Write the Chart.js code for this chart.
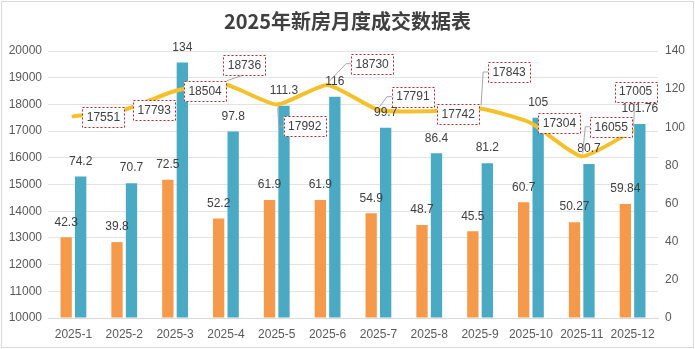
<!DOCTYPE html>
<html>
<head>
<meta charset="utf-8">
<script src="https://cdn.jsdelivr.net/npm/chart.js@4.4.1/dist/chart.umd.min.js"></script>
<style>
  html, body { margin: 0; padding: 0; background: #ffffff; }
  #wrap { width: 695px; height: 349px; }
</style>
</head>
<body>
<div id="wrap"><canvas id="c" width="695" height="349"></canvas></div>
<script>
// ---- data ----
const titleText = '2025年新房月度成交数据表';
const categories = ['2025-1','2025-2','2025-3','2025-4','2025-5','2025-6','2025-7','2025-8','2025-9','2025-10','2025-11','2025-12'];
const orangeValues = [42.3, 39.8, 72.5, 52.2, 61.9, 61.9, 54.9, 48.7, 45.5, 60.7, 50.27, 59.84];
const tealValues = [74.2, 70.7, 134, 97.8, 111.3, 116, 99.7, 86.4, 81.2, 105, 80.7, 101.76];
const lineValues = [17551, 17793, 18504, 18736, 17992, 18730, 17791, 17742, 17843, 17304, 16055, 17005];
const leftTicks = [10000, 11000, 12000, 13000, 14000, 15000, 16000, 17000, 18000, 19000, 20000];
const rightTicks = [0, 20, 40, 60, 80, 100, 120, 140];

// ---- label placement (style, not data) ----
const boxOffsets = [[30,0.6],[30,0.5],[30,0.5],[18.5,-19.7],[28,21.7],[44.5,-21.2],[34.5,-13.3],[29,2.7],[29,-36.6],[28.5,0.3],[29.5,-29.6],[3,-39.3]];
const leaderTypes = [null,null,null,'bottom','side','side','side',null,'side',null,'side','bottom'];

const FONT = '"Liberation Sans", "Noto Sans", sans-serif';
const TXT = '#404040';

const decorPlugin = {
  id: 'decor',
  beforeDraw(chart) {
    const ctx = chart.ctx;
    ctx.save();
    ctx.fillStyle = '#ffffff';
    ctx.fillRect(0, 0, chart.width, chart.height);
    ctx.strokeStyle = '#d9d9d9';
    ctx.lineWidth = 1;
    ctx.strokeRect(1.5, 1.5, chart.width - 3, chart.height - 3);
    ctx.fillStyle = '#404040';
    ctx.font = 'bold 20px "Noto Sans CJK SC", sans-serif';
    ctx.textAlign = 'center';
    ctx.textBaseline = 'middle';
    ctx.fillText(titleText, 347.5, 21.5);
    ctx.restore();
  },
  afterDatasetsDraw(chart) {
    const ctx = chart.ctx;
    ctx.save();
    // bar labels
    ctx.font = '12px ' + FONT;
    ctx.fillStyle = TXT;
    ctx.textAlign = 'center';
    ctx.textBaseline = 'middle';
    [0, 1].forEach(di => {
      const meta = chart.getDatasetMeta(di);
      const vals = chart.data.datasets[di].data;
      meta.data.forEach((bar, i) => {
        ctx.fillText(String(vals[i]), bar.x, bar.y - 15);
      });
    });
    // line labels in dashed boxes
    const lm = chart.getDatasetMeta(2);
    const bw = 42, bh = 20;
    lm.data.forEach((pt, i) => {
      const cx = pt.x + boxOffsets[i][0];
      const cy = pt.y + boxOffsets[i][1];
      const left = cx - bw / 2, top = cy - bh / 2;
      const lt = leaderTypes[i];
      if (lt) {
        ctx.strokeStyle = '#a6a6a6';
        ctx.lineWidth = 1;
        ctx.setLineDash([]);
        ctx.beginPath();
        if (lt === 'side') {
          const stubX = left - 5;
          const sy = pt.y + (cy < pt.y ? -3 : 3);
          ctx.moveTo(pt.x + 1, sy);
          ctx.lineTo(stubX, cy);
          ctx.lineTo(left, cy);
        } else {
          const sy = pt.y + (cy < pt.y ? -4 : 4);
          ctx.moveTo(pt.x + 1, sy);
          ctx.lineTo(cx - 1, top + bh);
        }
        ctx.stroke();
      }
      ctx.fillStyle = '#ffffff';
      ctx.fillRect(left, top, bw, bh);
      ctx.strokeStyle = '#b02a2a';
      ctx.lineWidth = 1;
      ctx.setLineDash([2, 2]);
      ctx.strokeRect(Math.round(left) + 0.5, Math.round(top) + 0.5, bw, bh);
      ctx.setLineDash([]);
      ctx.fillStyle = TXT;
      ctx.fillText(String(lineValues[i]), cx, cy + 0.5);
    });
    ctx.restore();
  }
};

new Chart(document.getElementById('c'), {
  data: {
    labels: categories,
    datasets: [
      { type: 'bar', data: orangeValues, backgroundColor: '#F5994A', yAxisID: 'y1', order: 2,
        categoryPercentage: 0.57, barPercentage: 0.78 },
      { type: 'bar', data: tealValues, backgroundColor: '#4AA9C3', yAxisID: 'y1', order: 2,
        categoryPercentage: 0.57, barPercentage: 0.78 },
      { type: 'line', data: lineValues, borderColor: '#F4C12C', borderWidth: 4, yAxisID: 'y',
        pointRadius: 0, tension: 0.18, fill: false, order: 1, borderCapStyle: 'round', borderJoinStyle: 'round' }
    ]
  },
  options: {
    responsive: false,
    animation: false,
    events: [],
    layout: { padding: { top: 51, left: 0, right: 0, bottom: 0 } },
    plugins: { legend: { display: false }, title: { display: false }, tooltip: { enabled: false } },
    scales: {
      x: {
        grid: { display: false, drawTicks: false },
        border: { display: true, color: '#d9d9d9' },
        ticks: { color: '#595959', font: { size: 12, family: FONT }, padding: 9, maxRotation: 0, autoSkip: false },
        afterFit(s) { s.height = 31; }
      },
      y: {
        position: 'left',
        min: leftTicks[0], max: leftTicks[leftTicks.length - 1],
        afterBuildTicks(s) { s.ticks = leftTicks.map(v => ({ value: v })); },
        grid: { color: '#e3e3e3', drawTicks: false },
        border: { display: false },
        ticks: { color: '#595959', font: { size: 12, family: FONT }, padding: 6, callback: v => String(v) },
        afterFit(s) { s.width = 48; }
      },
      y1: {
        position: 'right',
        min: rightTicks[0], max: rightTicks[rightTicks.length - 1],
        afterBuildTicks(s) { s.ticks = rightTicks.map(v => ({ value: v })); },
        grid: { drawOnChartArea: false, drawTicks: false },
        border: { display: false },
        ticks: { color: '#595959', font: { size: 12, family: FONT }, padding: 7, callback: v => String(v) },
        afterFit(s) { s.width = 37; }
      }
    }
  },
  plugins: [decorPlugin]
});
</script>
</body>
</html>
